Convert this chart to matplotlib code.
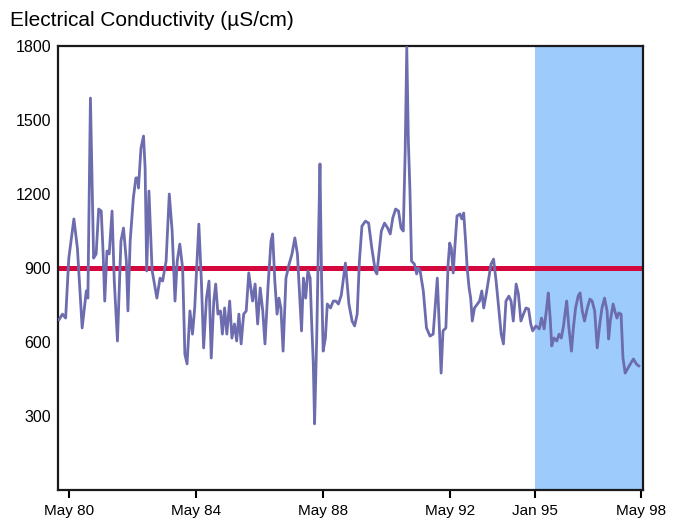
import matplotlib.pyplot as plt

# decimal years and conductivity readings (uS/cm)
years = [1980.03, 1980.14, 1980.24, 1980.34, 1980.50, 1980.61, 1980.76, 1980.89, 1980.94,
         1981.02, 1981.12, 1981.20, 1981.28, 1981.36, 1981.42, 1981.47, 1981.54, 1981.61,
         1981.70, 1981.77, 1981.87, 1981.98, 1982.06, 1982.15, 1982.20, 1982.27, 1982.37,
         1982.45, 1982.51, 1982.53, 1982.61, 1982.69, 1982.74, 1982.79, 1982.86, 1982.96,
         1983.11, 1983.21, 1983.29, 1983.40, 1983.50, 1983.59, 1983.68, 1983.75, 1983.83,
         1983.92, 1983.99, 1984.06, 1984.15, 1984.23, 1984.30, 1984.43, 1984.51, 1984.58,
         1984.67, 1984.75, 1984.82, 1984.90, 1984.96, 1985.03, 1985.11, 1985.17, 1985.24,
         1985.31, 1985.40, 1985.47, 1985.55, 1985.62, 1985.69, 1985.76, 1985.84, 1985.92,
         1986.00, 1986.12, 1986.20, 1986.28, 1986.36, 1986.44, 1986.51, 1986.61, 1986.70,
         1986.75, 1986.82, 1986.89, 1986.95, 1987.01, 1987.08, 1987.17, 1987.27, 1987.36,
         1987.45, 1987.53, 1987.58, 1987.66, 1987.72, 1987.79, 1987.86, 1987.93, 1987.98,
         1988.03, 1988.07, 1988.14, 1988.19, 1988.24, 1988.29, 1988.34, 1988.41, 1988.47,
         1988.57, 1988.66, 1988.74, 1988.82, 1988.91, 1989.04, 1989.15, 1989.25, 1989.33,
         1989.41, 1989.48, 1989.56, 1989.67, 1989.77, 1989.87, 1989.98, 1990.03, 1990.08,
         1990.17, 1990.27, 1990.37, 1990.45, 1990.53, 1990.62, 1990.71, 1990.79, 1990.86,
         1990.92, 1990.97, 1991.02, 1991.07, 1991.12, 1991.21, 1991.28, 1991.33, 1991.39,
         1991.49, 1991.59, 1991.70, 1991.80, 1991.93, 1991.99, 1992.05, 1992.11, 1992.20,
         1992.27, 1992.32, 1992.37, 1992.43, 1992.48, 1992.55, 1992.64, 1992.70, 1992.76,
         1992.82, 1992.87, 1992.93, 1992.98, 1993.03, 1993.10, 1993.19, 1993.26, 1993.33,
         1993.39, 1993.47, 1993.55, 1993.62, 1993.70, 1993.78, 1993.86, 1993.94, 1994.01,
         1994.09, 1994.18, 1994.25, 1994.32, 1994.41, 1994.48, 1994.56, 1994.64, 1994.72,
         1994.80, 1994.87, 1994.93, 1995.03, 1995.14, 1995.21, 1995.29, 1995.37, 1995.42,
         1995.48, 1995.53, 1995.60, 1995.69, 1995.76, 1995.83, 1995.90, 1995.95, 1996.00,
         1996.07, 1996.15, 1996.21, 1996.28, 1996.36, 1996.42, 1996.49, 1996.56, 1996.65,
         1996.73, 1996.80, 1996.88, 1996.96, 1997.04, 1997.11, 1997.19, 1997.27, 1997.32,
         1997.37, 1997.46, 1997.53, 1997.58, 1997.64, 1997.71, 1997.77, 1997.84, 1997.93,
         1998.02, 1998.10, 1998.19, 1998.27]
ec = [690, 713, 697, 940, 1099, 981, 657, 807, 778,
      1589, 940, 957, 1139, 1131, 957, 766, 969, 957,
      1131, 847, 604, 1009, 1062, 928, 726, 1009, 1184,
      1265, 1265, 1224, 1386, 1435, 1305, 888, 1212, 890,
      778, 859, 847, 928, 1200, 1050, 766, 928, 997,
      900, 551, 511, 726, 632, 738, 1078, 847, 576,
      778, 847, 535, 766, 835, 713, 726, 632, 738,
      632, 766, 616, 673, 604, 713, 592, 713, 726,
      880, 766, 835, 673, 819, 726, 592, 835, 1009,
      1038, 847, 713, 778, 738, 563, 859, 916, 957,
      1022, 957, 835, 645, 859, 778, 888, 859, 673,
      511, 268, 632, 997, 1322, 859, 563, 616, 754,
      738, 766, 766, 754, 790, 920, 754, 685, 665,
      713, 928, 1070, 1090, 1082, 981, 888, 876, 940,
      1050, 1082, 1062, 1038, 1103, 1139, 1131, 1062, 1050,
      1374, 1795, 1415, 1212, 928, 916, 876, 900, 888,
      807, 657, 624, 632, 859, 673, 474, 645, 657,
      916, 1001, 981, 880, 981, 1111, 1119, 1099, 1123,
      1009, 900, 819, 778, 685, 738, 754, 766, 807,
      738, 795, 859, 916, 936, 847, 738, 632, 592,
      766, 786, 766, 685, 835, 795, 685, 713, 738,
      734, 673, 645, 665, 653, 697, 653, 738, 799,
      697, 584, 616, 604, 632, 616, 665, 718, 766,
      657, 563, 657, 738, 786, 799, 726, 685, 738,
      774, 766, 726, 576, 673, 738, 778, 726, 612,
      685, 754, 718, 697, 718, 713, 535, 474, 495,
      515, 531, 511, 503]

guideline = 900
shade_start = 1995.0
tick_pos = [1980.333, 1984.333, 1988.333, 1992.333, 1995.0, 1998.333]
tick_labels = ["May 80", "May 84", "May 88", "May 92", "Jan 95", "May 98"]
y_ticks = [300, 600, 900, 1200, 1500, 1800]

plt.rcParams['font.family'] = ['Liberation Sans', 'DejaVu Sans']

fig = plt.figure(figsize=(6.82, 5.2), dpi=100)
ax = fig.add_axes([58 / 682, 1 - 490 / 520, 585 / 682, 444 / 520])

ax.axvspan(shade_start, 1998.4, color='#9ccbfc', lw=0, zorder=0)
ax.axhline(guideline, color='#d4083c', lw=3.6, zorder=2)
ax.plot(years, ec, color='#6c6cae', lw=2.0, zorder=3, solid_joinstyle='round')

ax.set_xlim(1980.0, 1998.4)
ax.set_ylim(0, 1800)
ax.set_xticks(tick_pos)
ax.set_xticklabels(tick_labels)
ax.set_yticks(y_ticks)
ax.set_yticklabels([str(v) for v in y_ticks])

ax.tick_params(axis='x', length=5.5, width=1.5, direction='out', pad=4.5, labelsize=11)
ax.tick_params(axis='y', length=0, pad=5, labelsize=11.5)
for s in ax.spines.values():
    s.set_linewidth(1.6)
    s.set_color('#1a1a1a')

fig.text(10 / 682, 1 - 26 / 520, "Electrical Conductivity (\u00b5S/cm)",
         fontsize=15, va='baseline', ha='left')

fig.savefig("out.png", dpi=100)
